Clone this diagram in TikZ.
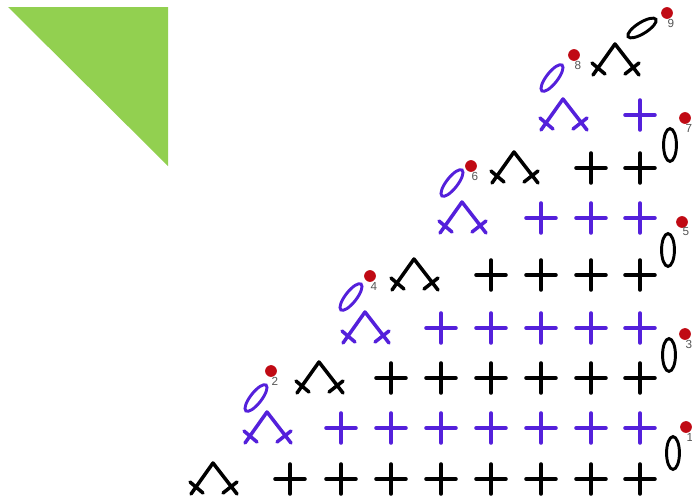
\documentclass[tikz,border=0pt]{standalone}
\usepackage{fontspec}
\setmainfont{Liberation Sans}
\usepackage{xcolor}
\usetikzlibrary{shapes.geometric}
\definecolor{leaf}{RGB}{146, 208, 80}
\definecolor{violet1}{RGB}{84, 32, 219}
\definecolor{dot}{RGB}{192, 10, 20}
\definecolor{numgray}{RGB}{85, 85, 85}

\begin{document}
\begin{tikzpicture}[x=0.03cm, y=-0.03cm,
  stitch/.pic={\draw[line width=3pt, line cap=round, pic actions] (-15,0) -- (15,0) (0,-15) -- (0,15);},
  peak/.pic={\draw[line width=3pt, line cap=round, line join=round, pic actions] (-23,15) -- (-1,-16) -- (23,15)
      (-24,3) -- (-11,14) (9,14) -- (23,3);},
  chain/.style={draw, ellipse, line width=2.5pt, inner sep=0pt, minimum width=28pt, minimum height=11pt},
  slant/.style={chain, draw=violet1, rotate=52, minimum height=9.5pt},
  marker/.style={circle, fill=dot, inner sep=0pt, minimum size=10pt},
  num/.style={font=\fontsize{10}{10}\selectfont, text=numgray, inner sep=0pt}]

  \useasboundingbox (0,0) rectangle (692,501);
  \fill[leaf] (8,7) -- (168,7) -- (168,166) -- cycle;

  % rows from the bottom up
  \foreach \y/\x/\c/\n in {479/214/black/290, 428/268/violet1/341, 378/320/black/391, 328/366/violet1/441,
      275/415/black/491, 218/463/violet1/541, 168/515/black/591, 115/564/violet1/640} {
    \pic[\c] at (\x,\y) {peak};
    \foreach \px in {290,341,391,441,491,541,591,640} {
      \ifnum\px<\n\relax\else
        \pic[\c] at (\px,\y) {stitch};
      \fi
    }
  }
  \pic[black] at (616,60) {peak};

  % turning chains
  \node[chain, rotate=90] (ch1) at (673,453) {};
  \node[slant] (ch2) at (256,398) {};
  \node[chain, rotate=90] (ch3) at (669,355) {};
  \node[slant] (ch4) at (351,297) {};
  \node[chain, rotate=90] (ch5) at (668,250) {};
  \node[slant] (ch6) at (452,183) {};
  \node[chain, rotate=90] (ch7) at (670,145) {};
  \node[slant] (ch8) at (552,78) {};
  \node[chain, rotate=32, minimum height=9.5pt] (ch9) at (642,28) {};

  % row markers
  \foreach \i/\x/\y in {1/686/427, 2/271/371, 3/685/334, 4/370/276, 5/682/222, 6/471/166, 7/685/118, 8/574/55, 9/667/13} {
    \node[marker] (m\i) at (\x,\y) {};
    \node[num] (t\i) at (\x+4,\y+10) {\i};
  }
\end{tikzpicture}
\end{document}
